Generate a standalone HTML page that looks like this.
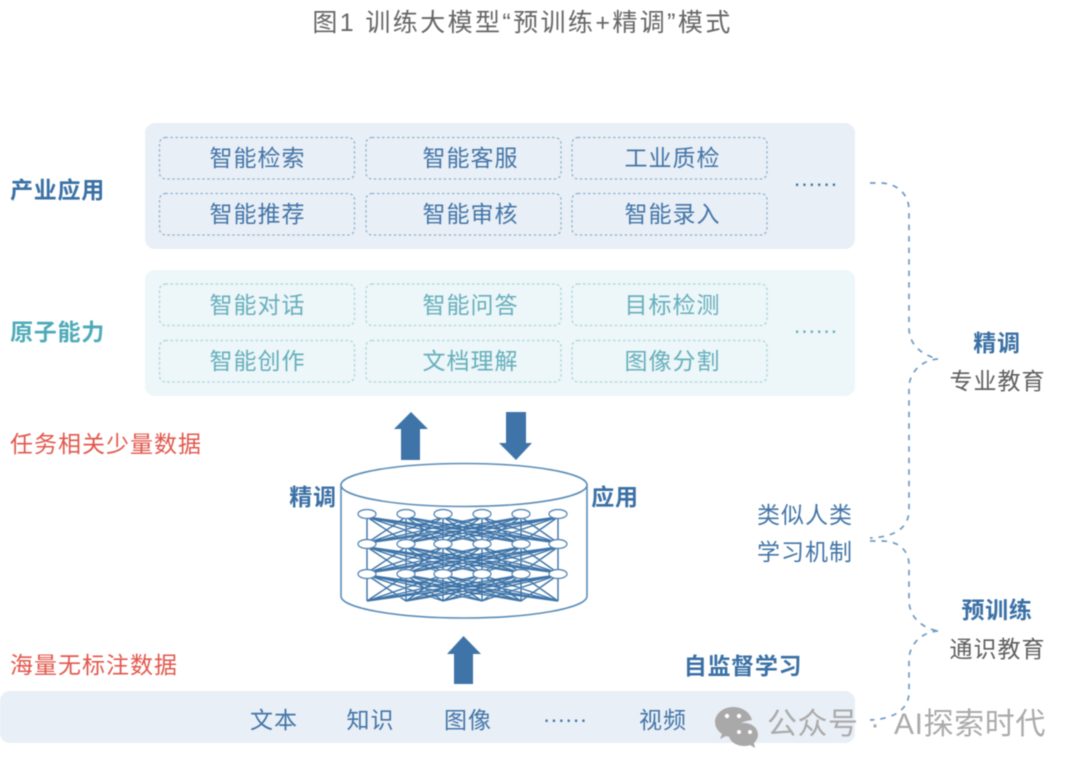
<!DOCTYPE html>
<html><head><meta charset="utf-8"><style>
html,body{margin:0;padding:0;background:#fff;width:1080px;height:768px;overflow:hidden}
svg{display:block;filter:blur(.45px)}
text{font-family:"Liberation Sans","Noto Sans CJK SC",sans-serif;font-size:23px;letter-spacing:1px;text-anchor:middle}
.b{fill:#4375a8}.t{fill:#66afbd}.bb{font-weight:700;fill:#3a70a5;font-size:23px;letter-spacing:.7px}.tt{font-weight:700;fill:#4faab8;font-size:23px;letter-spacing:.7px}.r{fill:#e2574c;text-anchor:start}.g{fill:#5e5e5e}
.d{letter-spacing:1px}
.ib{fill:none;stroke:#8fb2d0;stroke-width:1.3;stroke-dasharray:2.5 2.5}
.it{fill:none;stroke:#a9d6dc;stroke-width:1.3;stroke-dasharray:2.5 2.5}
.c{fill:none;stroke:#6f9bc2;stroke-width:1.7;stroke-dasharray:5.500 6}
</style></head><body>
<svg width="1080" height="768" viewBox="0 0 1080 768" xmlns="http://www.w3.org/2000/svg">
<defs>
<path id="l" fill="none" d="M367 0L367 26M367 0L406 26M367 0L443 26M367 0L482 26M367 0L521 26M367 0L558 26M406 0L367 26M406 0L406 26M406 0L443 26M406 0L482 26M406 0L521 26M406 0L558 26M443 0L367 26M443 0L406 26M443 0L443 26M443 0L482 26M443 0L521 26M443 0L558 26M482 0L367 26M482 0L406 26M482 0L443 26M482 0L482 26M482 0L521 26M482 0L558 26M521 0L367 26M521 0L406 26M521 0L443 26M521 0L482 26M521 0L521 26M521 0L558 26M558 0L367 26M558 0L406 26M558 0L443 26M558 0L482 26M558 0L521 26M558 0L558 26"/>
<g id="n" fill="#fff" stroke="#4d80b0" stroke-width="1.2"><ellipse cx="367" cy="0" rx="9" ry="4.500"/><ellipse cx="406" cy="0" rx="9" ry="4.500"/><ellipse cx="443" cy="0" rx="9" ry="4.500"/><ellipse cx="482" cy="0" rx="9" ry="4.500"/><ellipse cx="521" cy="0" rx="9" ry="4.500"/><ellipse cx="558" cy="0" rx="9" ry="4.500"/></g>
</defs>

<text x="522.500" y="31" style="font-size:25px;letter-spacing:2.4px;fill:#666">图1 训练大模型“预训练+精调”模式</text>

<rect x="145" y="123" width="710" height="126" rx="10" fill="#e9eff6"/>
<rect x="145" y="270" width="710" height="126" rx="10" fill="#edf6f8"/>
<rect x="0" y="691" width="855" height="52" rx="10" fill="#e9eff6"/>

<rect class="ib" x="159.500" y="137.500" width="195" height="41.500" rx="6"/>
<rect class="ib" x="366" y="137.500" width="195" height="41.500" rx="6"/>
<rect class="ib" x="572" y="137.500" width="195" height="41.500" rx="6"/>
<rect class="ib" x="159.500" y="193.500" width="195" height="41.500" rx="6"/>
<rect class="ib" x="366" y="193.500" width="195" height="41.500" rx="6"/>
<rect class="ib" x="572" y="193.500" width="195" height="41.500" rx="6"/>
<rect class="it" x="159.500" y="284" width="195" height="41.500" rx="6"/>
<rect class="it" x="366" y="284" width="195" height="41.500" rx="6"/>
<rect class="it" x="572" y="284" width="195" height="41.500" rx="6"/>
<rect class="it" x="159.500" y="340.500" width="195" height="41.500" rx="6"/>
<rect class="it" x="366" y="340.500" width="195" height="41.500" rx="6"/>
<rect class="it" x="572" y="340.500" width="195" height="41.500" rx="6"/>

<text class="b" x="257.500" y="166">智能检索</text><text class="b" x="470.500" y="166">智能客服</text><text class="b" x="672.500" y="166">工业质检</text>
<text class="b" x="257.500" y="222">智能推荐</text><text class="b" x="470.500" y="222">智能审核</text><text class="b" x="672.500" y="222">智能录入</text>
<text class="t" x="257.500" y="313">智能对话</text><text class="t" x="470.500" y="313">智能问答</text><text class="t" x="672.500" y="313">目标检测</text>
<text class="t" x="257.500" y="369">智能创作</text><text class="t" x="470.500" y="369">文档理解</text><text class="t" x="672.500" y="369">图像分割</text>
<text class="b d" x="816" y="186">......</text>
<text class="t d" x="816" y="333">......</text>

<text class="bb" x="57.500" y="198">产业应用</text>
<text class="tt" x="57.500" y="340">原子能力</text>
<text class="r" x="10" y="452">任务相关少量数据</text>
<text class="r" x="10" y="673">海量无标注数据</text>

<path fill="#3e74a8" d="M411 412L428 429H420V460H401V429H394Z"/>
<path fill="#3e74a8" d="M506 412H526V443H532L516 460L499 443H506Z"/>
<path fill="#3e74a8" d="M463.500 636L481 654H473V684H454V654H447Z"/>

<path d="M341 484V596C341 608 396 618 464 618C532 618 587 608 587 596V484" fill="#fff" stroke="#5b8db8" stroke-width="1.6"/>
<ellipse cx="464" cy="485" rx="123" ry="21.500" fill="#fff" stroke="#5b8db8" stroke-width="1.6"/>
<g stroke="#3e74a8" stroke-width="1.4">
<use href="#l" y="517"/><use href="#l" y="547"/><use href="#l" y="575"/>
</g>
<use href="#n" y="514"/><use href="#n" y="544"/><use href="#n" y="574"/>

<text class="bb" x="313" y="505">精调</text>
<text class="bb" x="615" y="505">应用</text>
<text class="bb" x="743" y="674">自监督学习</text>

<text class="b" x="274" y="728">文本</text><text class="b" x="370.500" y="728">知识</text><text class="b" x="468" y="728">图像</text><text class="b d" x="565.500" y="722">......</text><text class="b" x="663" y="728">视频</text>

<text class="b" x="805" y="523">类似人类</text><text class="b" x="805" y="560">学习机制</text>
<text class="bb" x="997" y="351">精调</text>
<text class="g" x="997.500" y="389">专业教育</text>
<text class="bb" x="997" y="618">预训练</text>
<text class="g" x="997.500" y="657">通识教育</text>

<path class="c" d="M870 183H882C898 184 909 195 909 210V328C909 345 922 355 938 359"/>
<path class="c" d="M938 359C922 360 909 372 909 388V510C909 527 896 537 870 538"/>
<path class="c" d="M870 541H882C898 541 909 550 909 565V600C909 617 922 628 938 631"/>
<path class="c" d="M938 631C922 632 909 644 909 660V692C909 708 896 719 870 720"/>

<g fill="#a9a9a9">
<path d="M733 707C723 707 715 714 715 722C715 727 718 731 722 734L720 739L726 736C729 737 731 737 733 737C733 727 741 721 752 720C750 712 742 707 733 707Z"/>
<path d="M744 723C736 723 729 728 729 735C729 741 736 746 744 746C746 746 748 746 750 745L755 748L754 743C756 741 758 738 758 735C758 728 752 723 744 723Z"/>
</g>
<g fill="#fff"><circle cx="727" cy="716" r="2.200"/><circle cx="739" cy="716" r="2.200"/><circle cx="739" cy="732" r="2"/><circle cx="750" cy="732" r="2"/></g>
<text x="767" y="734" style="font-size:30px;letter-spacing:.5px;fill:#aaa;text-anchor:start">公众号</text>
<text x="875" y="734" style="font-size:30px;letter-spacing:0;fill:#aaa">·</text>
<text x="894" y="734" style="font-size:30px;letter-spacing:.6px;fill:#aaa;text-anchor:start">AI探索时代</text>
</svg>
</body></html>
